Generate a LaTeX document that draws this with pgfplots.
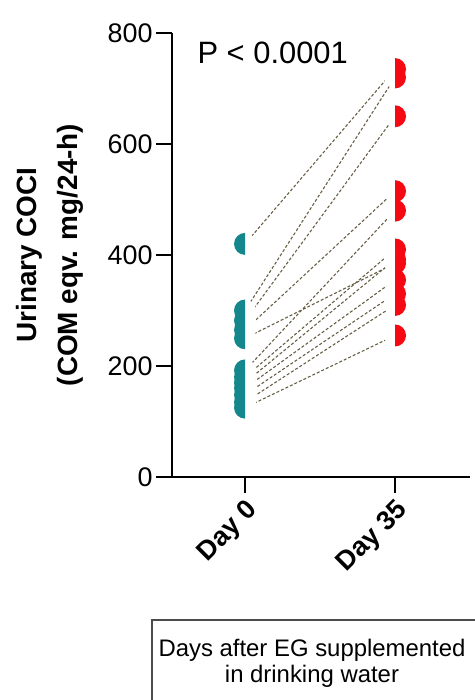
\documentclass[border=0pt]{standalone}
\usepackage{pgfplots}
\pgfplotsset{compat=1.18}
\usepackage{fontspec}
\setmainfont{Liberation Sans}

\definecolor{tealdot}{RGB}{20,135,140}
\definecolor{reddot}{RGB}{245,10,20}
\definecolor{pairline}{RGB}{105,95,70}

\newcommand{\fsz}[1]{\fontsize{#1}{#1}\selectfont}

% half-filled dots: coloured half on one side, white half on the other
\pgfdeclareplotmark{leftdot}{%
  \pgfsetfillcolor{white}%
  \pgfpathmoveto{\pgfqpoint{0pt}{-\pgfplotmarksize}}%
  \pgfpatharc{-90}{90}{\pgfplotmarksize}\pgfpathclose\pgfusepathqfill
  \pgfsetfillcolor{tealdot}%
  \pgfpathmoveto{\pgfqpoint{0pt}{\pgfplotmarksize}}%
  \pgfpatharc{90}{270}{\pgfplotmarksize}\pgfpathclose\pgfusepathqfill}
\pgfdeclareplotmark{rightdot}{%
  \pgfsetfillcolor{white}%
  \pgfpathmoveto{\pgfqpoint{0pt}{\pgfplotmarksize}}%
  \pgfpatharc{90}{270}{\pgfplotmarksize}\pgfpathclose\pgfusepathqfill
  \pgfsetfillcolor{reddot}%
  \pgfpathmoveto{\pgfqpoint{0pt}{-\pgfplotmarksize}}%
  \pgfpatharc{-90}{90}{\pgfplotmarksize}\pgfpathclose\pgfusepathqfill}

\begin{document}
\begin{tikzpicture}
  \useasboundingbox (0,0) rectangle (475bp,700bp);
  \begin{axis}[
      at={(172bp,223bp)}, anchor=south west,
      scale only axis,
      width=298bp, height=444bp,
      xmin=-0.487, xmax=1.5,
      ymin=0, ymax=800,
      axis lines=left,
      axis line style={-, line width=2.2pt},
      tick style={black, line width=2pt},
      tick align=outside,
      major tick length=16bp,
      ytick={0,200,400,600,800},
      xtick={0,1},
      xticklabels={Day 0, Day 35},
      tick label style={font=\fsz{27}},
      /pgf/number format/assume math mode=true,
      x tick label style={rotate=45, anchor=north east, font=\bfseries\fsz{27}},
      ylabel={Urinary COCI\\(COM eqv. mg/24-h)},
      ylabel style={at={(axis description cs:-0.41,0.5)}, anchor=center,
                    align=center, font=\bfseries\fontsize{28}{42}\selectfont},
      clip=false,
    ]
    % paired lines (Day 0 -> Day 35)
    \pgfplotsset{pair/.style={pairline, line width=1.1pt, dash pattern=on 3pt off 2pt}}
    \addplot[pair] coordinates {(0,420) (1,735)};
    \addplot[pair] coordinates {(0,300) (1,720)};
    \addplot[pair] coordinates {(0,282) (1,650)};
    \addplot[pair] coordinates {(0,265) (1,515)};
    \addplot[pair] coordinates {(0,250) (1,385)};
    \addplot[pair] coordinates {(0,192) (1,480)};
    \addplot[pair] coordinates {(0,180) (1,410)};
    \addplot[pair] coordinates {(0,170) (1,392)};
    \addplot[pair] coordinates {(0,160) (1,355)};
    \addplot[pair] coordinates {(0,148) (1,330)};
    \addplot[pair] coordinates {(0,135) (1,310)};
    \addplot[pair] coordinates {(0,125) (1,255)};

    % Day 0 markers
    \addplot[only marks, mark=leftdot, mark size=11bp]
      coordinates {(0,420) (0,300) (0,282) (0,265) (0,250) (0,192) (0,180)
                   (0,170) (0,160) (0,148) (0,135) (0,125)};
    % Day 35 markers
    \addplot[only marks, mark=rightdot, mark size=11bp]
      coordinates {(1,735) (1,720) (1,650) (1,515) (1,480) (1,410) (1,392)
                   (1,385) (1,355) (1,330) (1,310) (1,255)};

    \node[anchor=west, font=\fsz{31}] at (axis cs:-0.34,765) {P < 0.0001};
  \end{axis}
  % x-axis caption box
  \draw[line width=1.2pt, black!70] (152bp,-5bp) -- (152bp,80bp) -- (480bp,80bp);
  \node[align=center, font=\fsz{24}] at (312bp,37bp)
    {Days after EG supplemented\\[2bp]in drinking water};
\end{tikzpicture}
\end{document}
